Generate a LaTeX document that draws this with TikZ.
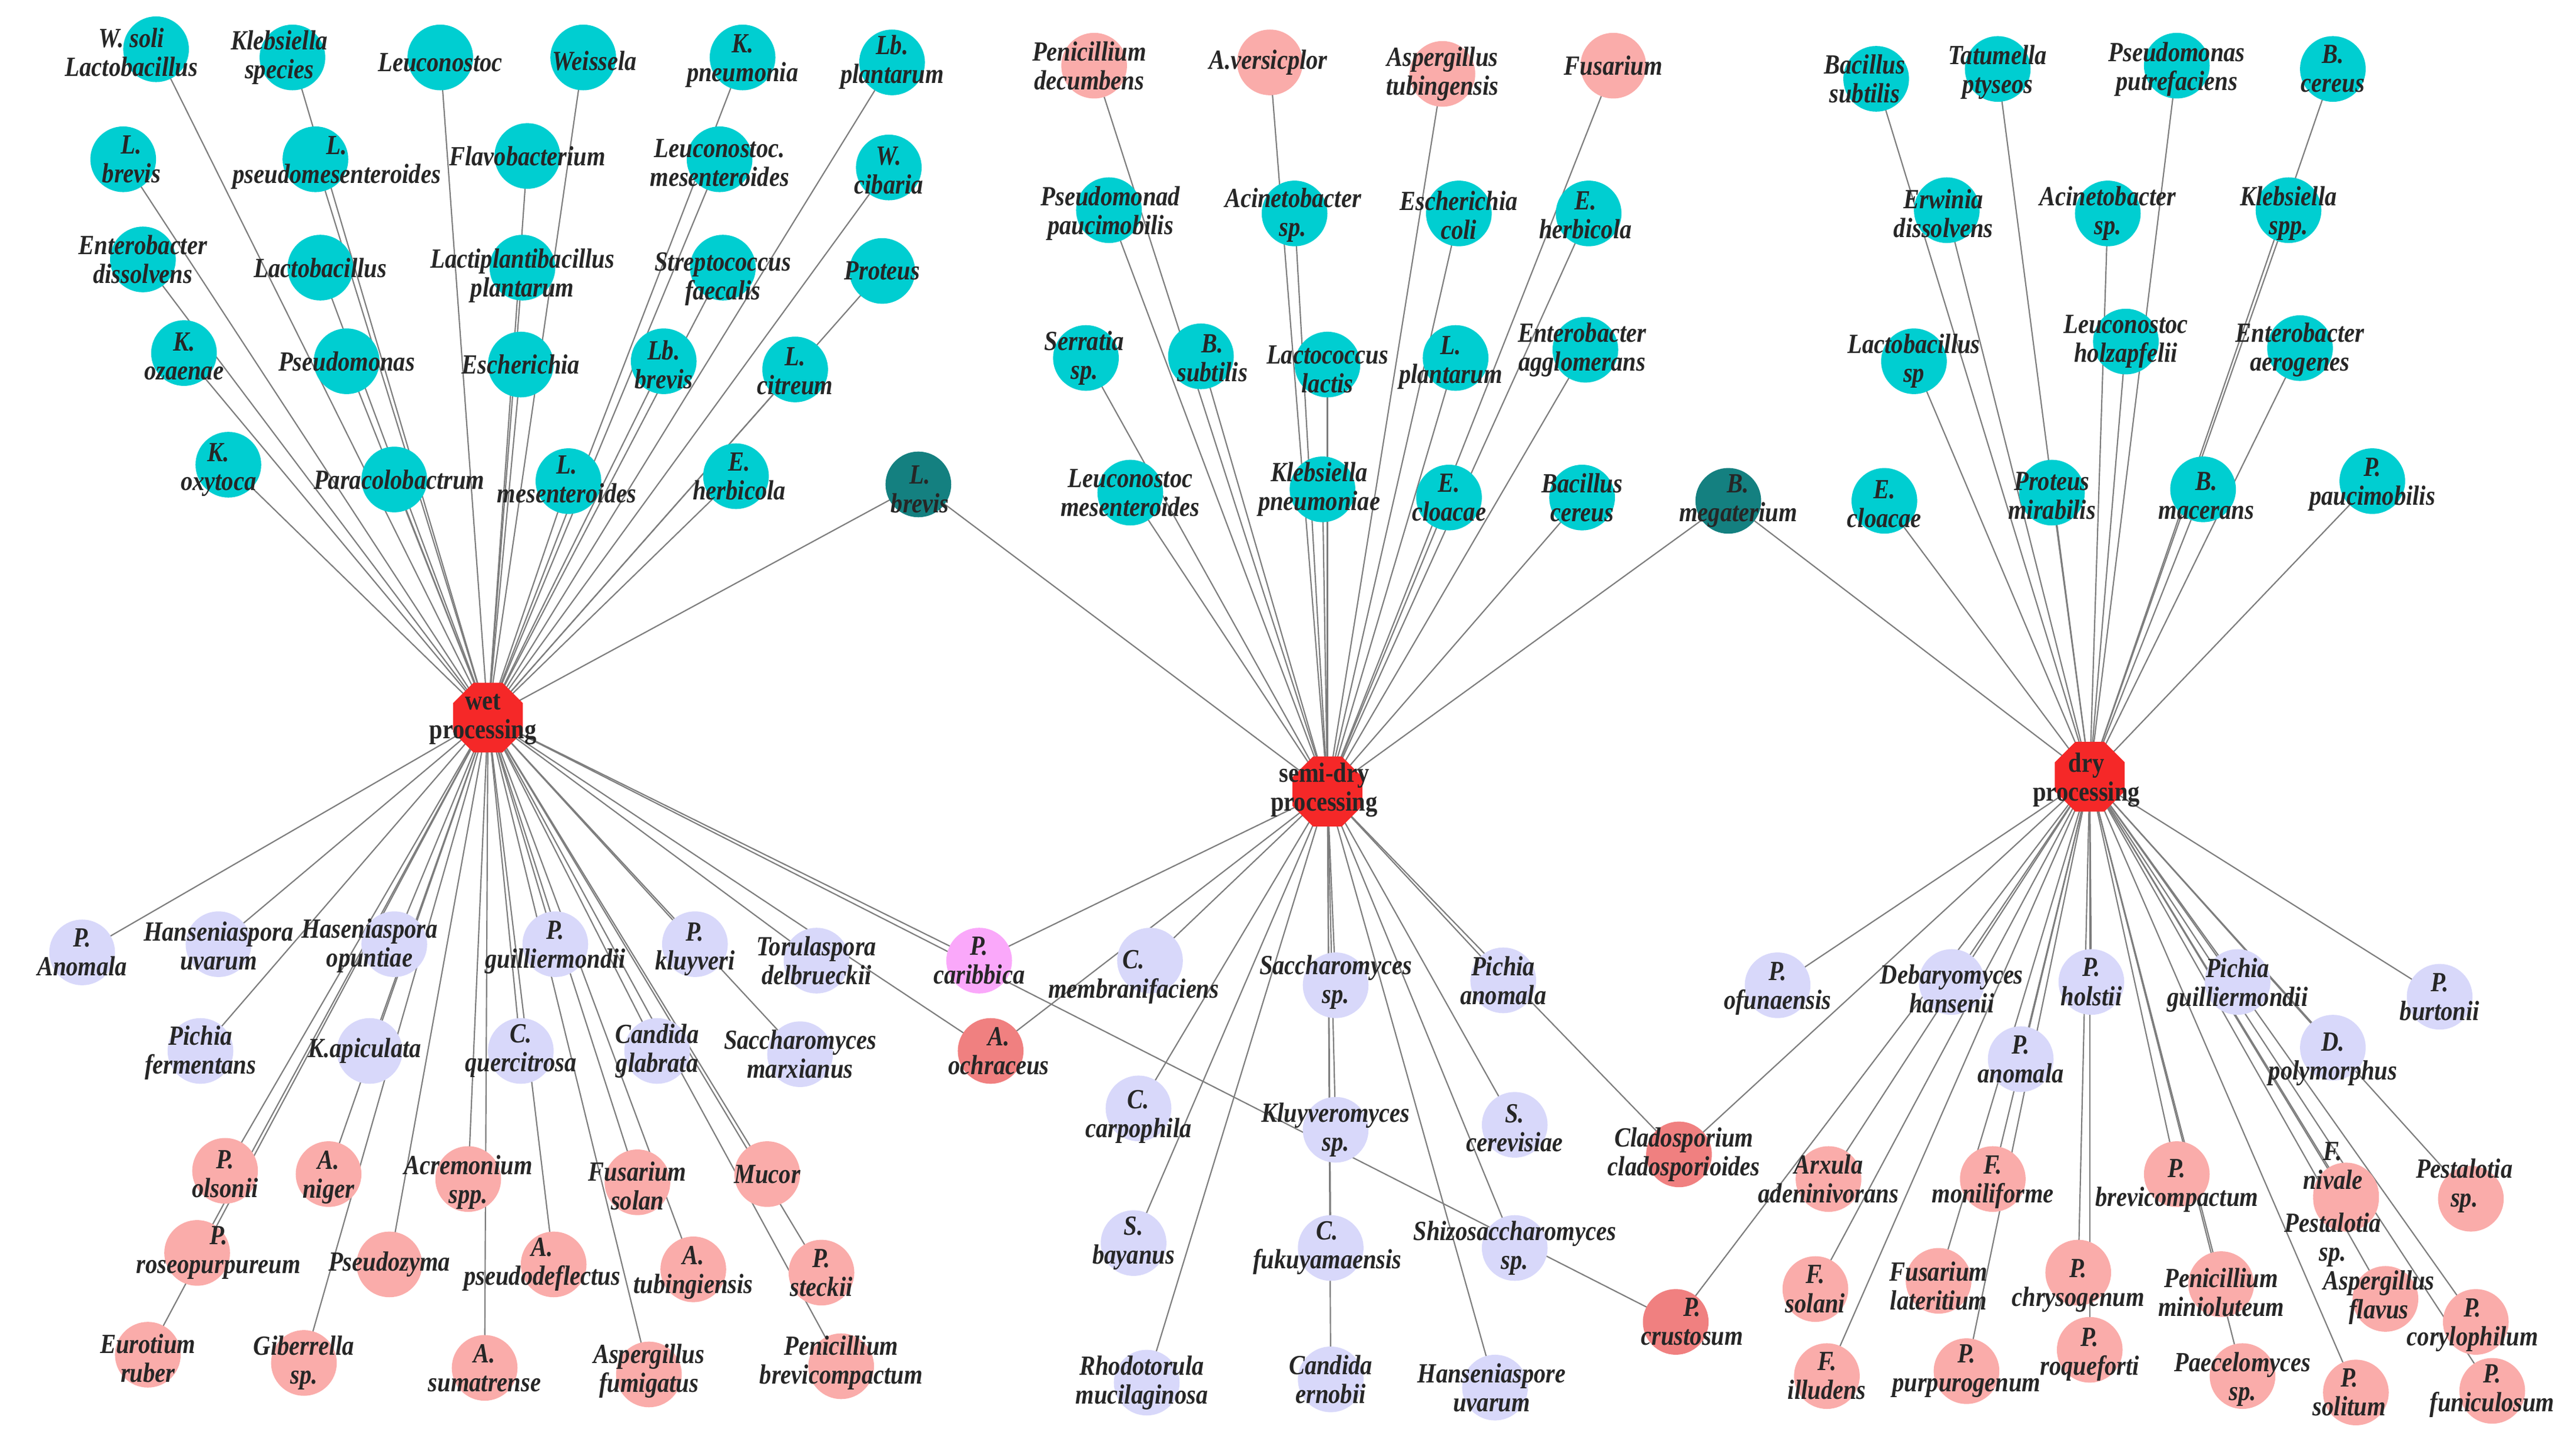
\documentclass[tikz,border=0pt]{standalone}
\usepackage{fontspec}
\setmainfont{Liberation Serif}[FakeStretch=0.86]
\usetikzlibrary{shapes.geometric,backgrounds}
\pgfdeclarelayer{fg}
\pgfsetlayers{background,main,fg}
\definecolor{cyanC}{RGB}{0,206,209}
\definecolor{tealC}{RGB}{20,128,128}
\definecolor{lavC}{RGB}{216,216,250}
\definecolor{pinkC}{RGB}{250,172,170}
\definecolor{salC}{RGB}{240,128,128}
\definecolor{magC}{RGB}{250,168,250}
\definecolor{hubC}{RGB}{245,40,40}
\definecolor{edgeC}{RGB}{125,125,125}
\newcommand\nd[5]{\node[circle,minimum size=2cm,inner sep=0,draw=none,fill=#2] (#1) at (#3) {};
 \begin{pgfonlayer}{fg}\node[lab] (#1-l) at (#4) {#5};\end{pgfonlayer}}
\begin{document}
\begin{tikzpicture}[x=0.05cm,y=-0.05cm,
 lab/.style={font=\bfseries\itshape\fontsize{24}{25}\selectfont,align=center,inner sep=0,text=black!85},
 hub/.style={regular polygon,regular polygon sides=8,minimum size=2.3cm,inner sep=0,fill=hubC,draw=none},
 edge/.style={draw=edgeC,line width=1.1pt}]
\useasboundingbox (0,0) rectangle (1568,884.8);
% hubs
\node[hub] (wet) at (297,437) {};
\node[hub] (semi) at (808,482) {};
\node[hub] (dry) at (1272,473) {};
\begin{pgfonlayer}{fg}
\node[lab,font=\bfseries\fontsize{24}{25}\selectfont] (wet-l) at (294,438) {wet\\processing};
\node[lab,font=\bfseries\fontsize{24}{25}\selectfont] (semi-l) at (806,481) {semi-dry\\processing};
\node[lab,font=\bfseries\fontsize{24}{25}\selectfont] (dry-l) at (1270,475) {dry\\processing};
\end{pgfonlayer}
% wet cyan
\nd{wsoli}{cyanC}{95,30}{80,32}{W. soli\\Lactobacillus}
\nd{kleb}{cyanC}{178,35}{170,35}{Klebsiella\\species}
\nd{leuco}{cyanC}{268,35}{268,38}{Leuconostoc}
\nd{weis}{cyanC}{355,35}{362,37}{Weissela}
\nd{kpn}{cyanC}{452,35}{452,37}{K.\\pneumonia}
\nd{lbpl}{cyanC}{543,38}{543,38}{Lb.\\plantarum}
\nd{lbrev}{cyanC}{75,97}{80,97}{L.\\brevis}
\nd{lpseudo}{cyanC}{192,97}{205,99}{L.\\pseudomesenteroides}
\nd{flavo}{cyanC}{321,95}{321,95}{Flavobacterium}
\nd{lmesen}{cyanC}{438,97}{438,99}{Leuconostoc.\\mesenteroides}
\nd{wcib}{cyanC}{541,102}{541,104}{W.\\cibaria}
\nd{entd}{cyanC}{87,158}{87,158}{Enterobacter\\dissolvens}
\nd{lacto}{cyanC}{195,163}{195,163}{Lactobacillus}
\nd{lactip}{cyanC}{318,163}{318,168}{Lactiplantibacillus\\plantarum}
\nd{strep}{cyanC}{440,163}{440,170}{Streptococcus\\faecalis}
\nd{proteus}{cyanC}{537,165}{537,165}{Proteus}
\nd{koz}{cyanC}{112,215}{112,217}{K.\\ozaenae}
\nd{pseud}{cyanC}{211,220}{211,220}{Pseudomonas}
\nd{esch}{cyanC}{317,222}{317,222}{Escherichia}
\nd{lbbrev}{cyanC}{404,220}{404,222}{Lb.\\brevis}
\nd{lcit}{cyanC}{484,225}{484,226}{L.\\citreum}
\nd{koxy}{cyanC}{139,283}{133,286}{K.\\oxytoca}
\nd{paraco}{cyanC}{240,292}{243,292}{Paracolobactrum}
\nd{lmes2}{cyanC}{346,293}{345,292}{L.\\mesenteroides}
\nd{eherb}{cyanC}{448,290}{450,290}{E.\\herbicola}
\nd{lbrevt}{tealC}{559,295}{560,298}{L.\\brevis}
% semi top
\nd{penic}{pinkC}{666,40}{663,40}{Penicillium\\decumbens}
\nd{aver}{pinkC}{773,38}{772,38}{A.versicplor}
\nd{asptub}{pinkC}{878,45}{878,45}{Aspergillus\\tubingensis}
\nd{fus}{pinkC}{982,40}{982,40}{Fusarium}
\nd{pseudpa}{cyanC}{675,128}{676,130}{Pseudomonad\\paucimobilis}
\nd{acin}{cyanC}{788,130}{787,131}{Acinetobacter\\sp.}
\nd{ecoli}{cyanC}{888,130}{888,131}{Escherichia\\coli}
\nd{eherb2}{cyanC}{967,130}{965,131}{E.\\herbicola}
\nd{serr}{cyanC}{661,218}{660,218}{Serratia\\sp.}
\nd{bsub}{cyanC}{731,217}{738,218}{B.\\subtilis}
\nd{lactoc}{cyanC}{808,222}{808,225}{Lactococcus\\lactis}
\nd{lplant}{cyanC}{886,218}{883,221}{L.\\plantarum}
\nd{entag}{cyanC}{965,213}{963,213}{Enterobacter\\agglomerans}
\nd{leumes}{cyanC}{688,300}{688,300}{Leuconostoc\\mesenteroides}
\nd{klpn}{cyanC}{805,298}{803,298}{Klebsiella\\pneumoniae}
\nd{eclo}{cyanC}{882,303}{882,303}{E.\\cloacae}
\nd{bcer}{cyanC}{963,303}{963,303}{Bacillus\\cereus}
\nd{bmeg}{tealC}{1052,305}{1058,305}{B.\\megaterium}
% dry top
\nd{bsub2}{cyanC}{1142,48}{1135,48}{Bacillus\\subtilis}
\nd{tatu}{cyanC}{1216,42}{1216,44}{Tatumella\\ptyseos}
\nd{pput}{cyanC}{1325,40}{1325,42}{Pseudomonas\\putrefaciens}
\nd{bcer2}{cyanC}{1420,42}{1420,42}{B.\\cereus}
\nd{erw}{cyanC}{1185,128}{1183,130}{Erwinia\\dissolvens}
\nd{acin2}{cyanC}{1283,130}{1283,130}{Acinetobacter\\sp.}
\nd{kspp}{cyanC}{1393,128}{1393,130}{Klebsiella\\spp.}
\nd{lactsp}{cyanC}{1165,220}{1165,220}{Lactobacillus\\sp}
\nd{leuhol}{cyanC}{1294,208}{1294,208}{Leuconostoc\\holzapfelii}
\nd{entaer}{cyanC}{1400,212}{1400,213}{Enterobacter\\aerogenes}
\nd{eclo2}{cyanC}{1147,305}{1147,307}{E.\\cloacae}
\nd{prmir}{cyanC}{1249,300}{1249,302}{Proteus\\mirabilis}
\nd{bmac}{cyanC}{1341,298}{1343,302}{B.\\macerans}
\nd{ppau}{cyanC}{1444,293}{1444,295}{P.\\paucimobilis}
% wet bottom
\nd{panom}{lavC}{50,580}{50,580}{P.\\Anomala}
\nd{hanuv}{lavC}{133,575}{133,576}{Hanseniaspora\\uvarum}
\nd{hanop}{lavC}{240,575}{225,576}{Haseniaspora\\opuntiae}
\nd{pguil}{lavC}{338,575}{338,577}{P.\\guilliermondii}
\nd{pkluy}{lavC}{423,575}{423,578}{P.\\kluyveri}
\nd{torul}{lavC}{497,585}{497,585}{Torulaspora\\delbrueckii}
\nd{pferm}{lavC}{122,640}{122,641}{Pichia\\fermentans}
\nd{kapic}{lavC}{225,640}{222,640}{K.apiculata}
\nd{cquer}{lavC}{317,640}{317,640}{C.\\quercitrosa}
\nd{cglab}{lavC}{400,640}{400,640}{Candida\\glabrata}
\nd{smarx}{lavC}{487,642}{487,642}{Saccharomyces\\marxianus}
\nd{polson}{pinkC}{137,713}{137,715}{P.\\olsonii}
\nd{aniger}{pinkC}{200,715}{200,717}{A.\\niger}
\nd{acrem}{pinkC}{285,718}{285,720}{Acremonium\\spp.}
\nd{fsolan}{pinkC}{388,720}{388,722}{Fusarium\\solan}
\nd{mucor}{pinkC}{467,715}{467,715}{Mucor}
\nd{proseo}{pinkC}{120,763}{133,763}{P.\\roseopurpureum}
\nd{pseudoz}{pinkC}{237,770}{237,770}{Pseudozyma}
\nd{apseu}{pinkC}{337,770}{330,770}{A.\\pseudodeflectus}
\nd{atub}{pinkC}{422,773}{422,775}{A.\\tubingiensis}
\nd{psteck}{pinkC}{500,775}{500,775}{P.\\steckii}
\nd{eurot}{pinkC}{90,825}{90,827}{Eurotium\\ruber}
\nd{giber}{pinkC}{185,830}{185,830}{Giberrella\\sp.}
\nd{asum}{pinkC}{295,833}{295,833}{A.\\sumatrense}
\nd{afum}{pinkC}{395,837}{395,835}{Aspergillus\\fumigatus}
\nd{pbrev}{pinkC}{512,832}{512,830}{Penicillium\\brevicompactum}
\nd{pcarib}{magC}{596,585}{596,585}{P.\\caribbica}
\nd{aoch}{salC}{603,640}{608,640}{A.\\ochraceus}
% semi bottom
\nd{cmemb}{lavC}{700,585}{690,595}{C.\\membranifaciens}
\nd{saccsp}{lavC}{813,600}{813,598}{Saccharomyces\\sp.}
\nd{pichan}{lavC}{915,597}{915,597}{Pichia\\anomala}
\nd{ccarp}{lavC}{693,675}{693,680}{C.\\carpophila}
\nd{kluysp}{lavC}{813,688}{813,688}{Kluyveromyces\\sp.}
\nd{scer}{lavC}{922,685}{922,687}{S.\\cerevisiae}
\nd{sbay}{lavC}{690,757}{690,757}{S.\\bayanus}
\nd{cfuk}{lavC}{810,760}{808,760}{C.\\fukuyamaensis}
\nd{shizo}{lavC}{922,760}{922,760}{Shizosaccharomyces\\sp.}
\nd{rhod}{lavC}{698,842}{695,842}{Rhodotorula\\mucilaginosa}
\nd{cern}{lavC}{810,840}{810,840}{Candida\\ernobii}
\nd{hansuv}{lavC}{910,845}{908,845}{Hanseniaspore\\uvarum}
\nd{clado}{salC}{1022,703}{1025,703}{Cladosporium\\cladosporioides}
\nd{pcrust}{salC}{1020,805}{1030,805}{P.\\crustosum}
% dry bottom
\nd{pofun}{lavC}{1082,600}{1082,602}{P.\\ofunaensis}
\nd{debar}{lavC}{1188,598}{1188,602}{Debaryomyces\\hansenii}
\nd{pholst}{lavC}{1273,598}{1273,598}{P.\\holstii}
\nd{pichg}{lavC}{1362,598}{1362,600}{Pichia\\guilliermondii}
\nd{pburt}{lavC}{1485,607}{1485,607}{P.\\burtonii}
\nd{panom2}{lavC}{1230,645}{1230,645}{P.\\anomala}
\nd{dpoly}{lavC}{1420,638}{1420,645}{D.\\polymorphus}
\nd{arx}{pinkC}{1113,718}{1113,718}{Arxula\\adeninivorans}
\nd{fmoni}{pinkC}{1213,718}{1213,720}{F.\\moniliforme}
\nd{pbrevi}{pinkC}{1325,715}{1325,722}{P.\\brevicompactum}
\nd{fniv}{pinkC}{1428,728}{1420,710}{F.\\nivale}
\nd{pestal1}{pinkC}{1428,730}{1420,755}{Pestalotia\\sp.}
\nd{pestal}{pinkC}{1504,730}{1500,722}{Pestalotia\\sp.}
\nd{fsol2}{pinkC}{1105,785}{1105,785}{F.\\solani}
\nd{fusl}{pinkC}{1180,780}{1180,783}{Fusarium\\lateritium}
\nd{pchry}{pinkC}{1265,775}{1265,783}{P.\\chrysogenum}
\nd{penmin}{pinkC}{1352,782}{1352,787}{Penicillium\\minioluteum}
\nd{aflav}{pinkC}{1452,791}{1448,790}{Aspergillus\\flavus}
\nd{pcory}{pinkC}{1507,805}{1505,807}{P.\\corylophilum}
\nd{fill}{pinkC}{1112,838}{1112,838}{F.\\illudens}
\nd{ppurp}{pinkC}{1197,835}{1197,835}{P.\\purpurogenum}
\nd{proq}{pinkC}{1272,822}{1272,825}{P.\\roqueforti}
\nd{paec}{pinkC}{1365,838}{1365,840}{Paecelomyces\\sp.}
\nd{psol}{pinkC}{1434,848}{1430,848}{P.\\solitum}
\nd{pfun}{pinkC}{1517,847}{1517,847}{P.\\funiculosum}
% edges
\begin{scope}[on background layer]
\foreach \n in {wsoli,kleb,leuco,weis,kpn,lbpl,lbrev,lpseudo,flavo,lmesen,wcib,entd,lacto,lactip,strep,proteus,koz,pseud,esch,lbbrev,lcit,koxy,paraco,lmes2,eherb,lbrevt,panom,hanuv,hanop,pguil,pkluy,torul,pferm,kapic,cquer,cglab,smarx,polson,aniger,acrem,fsolan,mucor,proseo,pseudoz,apseu,atub,psteck,eurot,giber,asum,afum,pbrev,pcarib,aoch,pcrust}
  \draw[edge] (wet.center) -- (\n.center);
\foreach \n in {penic,aver,asptub,fus,pseudpa,acin,ecoli,eherb2,serr,bsub,lactoc,lplant,entag,leumes,klpn,eclo,bcer,bmeg,lbrevt,cmemb,saccsp,pichan,ccarp,kluysp,scer,sbay,cfuk,shizo,rhod,cern,hansuv,pcarib,aoch,clado}
  \draw[edge] (semi.center) -- (\n.center);
\foreach \n in {bsub2,tatu,pput,bcer2,erw,acin2,kspp,lactsp,leuhol,entaer,eclo2,prmir,bmac,ppau,bmeg,pofun,debar,pholst,pichg,pburt,panom2,dpoly,arx,fmoni,pbrevi,fniv,pestal1,pestal,fsol2,fusl,pchry,penmin,aflav,pcory,fill,ppurp,proq,paec,psol,pfun,clado,pcrust}
  \draw[edge] (dry.center) -- (\n.center);
\end{scope}
\end{tikzpicture}
\end{document}
